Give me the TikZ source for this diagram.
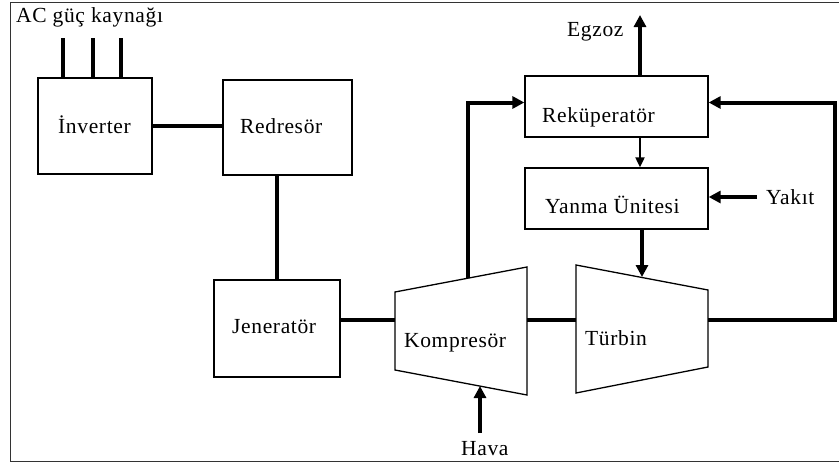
\documentclass[tikz,border=0pt]{standalone}
\usepackage{fontspec}
\setmainfont{Liberation Serif}[LetterSpace=3.0]
\usetikzlibrary{arrows.meta}

\begin{document}
\begin{tikzpicture}[x=1pt, y=-1pt, font=\fontsize{21.5}{26}\selectfont, line join=miter,
		>={Triangle[width=12pt,length=12pt]},
		box/.style 2 args={draw, line width=1.3pt, minimum width=#1pt, minimum height=#2pt, inner sep=0pt},
		lbl/.style={anchor=base west, inner sep=0pt},
		wire/.style={line width=4pt},
		part/.style={line width=1.3pt}]
		\useasboundingbox (0,0) rectangle (839,463);
		\draw[line width=1pt, black!80] (839,2) -- (10,2) -- (10,461) -- (839,461);
		\path
		(395,292) coordinate (k1)
		(527,267) coordinate (k2)
		(527,395) coordinate (k3)
		(395,370) coordinate (k4)
		(576,265) coordinate (t1)
		(708,290) coordinate (t2)
		(708,367) coordinate (t3)
		(576,393) coordinate (t4)
		(468,278) coordinate (kout)
		(480,386) coordinate (kin)
		(480,433) coordinate (air)
		(642,277) coordinate (tin)
		(640,15) coordinate (exh)
		(757,197) coordinate (fuel)
		(835,320) coordinate (back)
		;
		\node[box={114}{96}] (inv) at (95,126) {};
		\node[box={129}{95}] (red) at (287.5,127.5) {};
		\node[box={126}{97}] (jen) at (277,328.5) {};
		\node[box={183}{61}] (rek) at (616.5,106.5) {};
		\node[box={183}{61}] (yan) at (616.5,198.5) {};
		\draw[part] (k1) -- (k2) -- (k3) -- (k4) -- cycle;
		\draw[part] (t1) -- (t2) -- (t3) -- (t4) -- cycle;
		\foreach \n/\x/\y/\t in {ac/16/23/AC güç kaynağı, invt/58/133/İnverter, redt/240/133/Redresör,
			jent/232/333/Jeneratör, komt/404/347/Kompresör, turt/585/345/Türbin, hava/461/455/Hava,
			rekt/542/122/Reküperatör, yant/545/213/Yanma Ünitesi, egzoz/567/36/Egzoz, yakit/766/204/Yakıt}
		\node[lbl] (\n) at (\x,\y) {\t};
		% electric side
		\foreach \d in {-32,-2,26}
		\draw[wire] ([xshift=\d pt]inv.north) -- ++(0,-39);
		\draw[wire] (inv.east) -- (inv.east -| red.west);
		\draw[wire] (jen.north |- red.south) -- (jen.north);
		\draw[wire] (jen.east |- back) -- (k1 |- back);
		\draw[wire] (k2 |- back) -- (t1 |- back);
		% gas path
		\draw[wire,->] (air) -- (kin);
		\draw[wire,->] (kout) |- ([yshift=4pt]rek.west);
		\draw[line width=2pt,->,>={Triangle[width=9pt,length=10pt]}] (rek.south -| exh) -- (yan.north -| exh);
		\draw[wire,->] (fuel) -- (fuel -| yan.east);
		\draw[wire,->] (yan.south -| tin) -- (tin);
		\draw[wire,->] (t2 |- back) -- (back) |- ([yshift=4pt]rek.east);
		\draw[wire,->] (rek.north -| exh) -- (exh);
	\end{tikzpicture}
\end{document}
